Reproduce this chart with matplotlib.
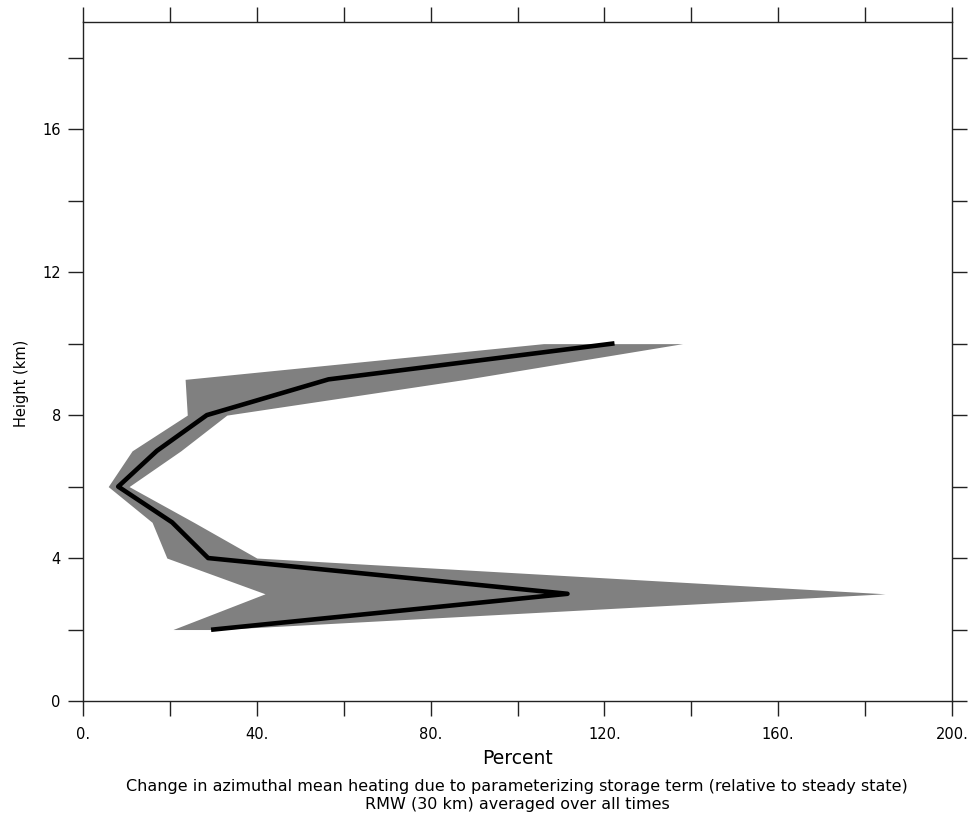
import matplotlib
matplotlib.use("Agg")
import matplotlib.pyplot as plt
import numpy as np


# Data

heights = [2, 3, 4, 5, 6, 7, 8, 9, 10]

mean_pct = [30.0, 111.5, 28.8, 20.5, 8.1, 17.0, 28.5, 56.5, 121.8]

min_pct = [20.7, 41.9, 19.3, 15.9, 5.8, 11.3, 24.0, 23.5, 106.0]

max_pct = [31.0, 184.6, 40.0, 25.5, 10.6, 22.5, 33.1, 88.0, 138.0]

x_ticks = np.arange(0, 201, 20)
x_tick_labels = [f"{int(v)}." if v % 40 == 0 else "" for v in x_ticks]

y_ticks = np.arange(0, 19, 2)
y_tick_labels = [str(v) if v % 4 == 0 else "" for v in y_ticks]


# Figure

fig = plt.figure(figsize=(9.74, 8.18), dpi=100)

ax = fig.add_axes([83 / 974, 1 - 701 / 818, (952 - 83) / 974, (701 - 22) / 818])

ax.fill_betweenx(heights, min_pct, max_pct, color="#808080", linewidth=0)

ax.plot(mean_pct, heights, color="black", linewidth=3.3)

ax.set_xlim(0, 200)
ax.set_ylim(0, 19)


# Axes styling

for spine in ax.spines.values():
    spine.set_linewidth(1.0)
    spine.set_color("#222222")

ax.set_xticks(x_ticks)
ax.set_xticklabels(x_tick_labels)
ax.set_yticks(y_ticks)
ax.set_yticklabels(y_tick_labels)

ax.tick_params(
    direction="out",
    length=11,
    width=1.0,
    color="#222222",
    top=True,
    right=True,
    labelsize=10.5,
)
ax.tick_params(axis="x", pad=8)
ax.tick_params(axis="y", pad=5)


# Labels

fig.text(518 / 974, 1 - 758 / 818, "Percent", ha="center", va="center", fontsize=13.5)

fig.text(22 / 974, 1 - 383 / 818, "Height (km)", ha="center", va="center",
         rotation=90, fontsize=10.5)

fig.text(517 / 974, 1 - 786 / 818,
         "Change in azimuthal mean heating due to parameterizing storage term (relative to steady state)",
         ha="center", va="center", fontsize=11.5)

fig.text(517 / 974, 1 - 804 / 818, "RMW (30 km) averaged over all times",
         ha="center", va="center", fontsize=11.5)

plt.savefig("out.png", dpi=100)
